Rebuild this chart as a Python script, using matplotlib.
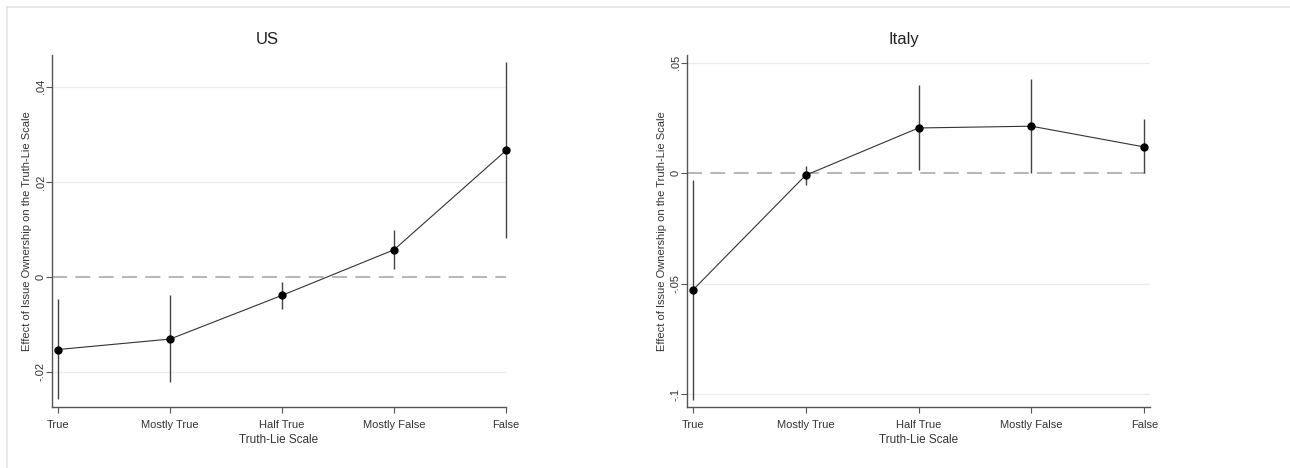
import matplotlib
matplotlib.use("Agg")
import matplotlib.pyplot as plt
from matplotlib.lines import Line2D

plt.rcParams['font.family'] = ['Liberation Sans', 'DejaVu Sans']

categories = ['True', 'Mostly True', 'Half True', 'Mostly False', 'False']

us_est = [-0.0153, -0.0131, -0.0039, 0.0057, 0.0266]
us_lo = [-0.0257, -0.0222, -0.0068, 0.0016, 0.0081]
us_hi = [-0.0047, -0.0038, -0.0010, 0.0099, 0.0453]
us_ticks = [-0.02, 0, 0.02, 0.04]
us_ticklabels = ['-.02', '0', '.02', '.04']

it_est = [-0.0529, -0.0009, 0.0205, 0.0213, 0.0119]
it_lo = [-0.1024, -0.0051, 0.0014, 0.0000, 0.0000]
it_hi = [-0.0029, 0.0032, 0.0398, 0.0428, 0.0247]
it_ticks = [-0.1, -0.05, 0, 0.05]
it_ticklabels = ['-.1', '-.05', '0', '.05']

W, H = 1290, 468
fig = plt.figure(figsize=(W / 100, H / 100), dpi=100)

# faint frame of the original screenshot
fig.add_artist(Line2D([7 / W, 1], [1 - 7 / H, 1 - 7 / H], color='#e4e4e4', lw=1.2))
fig.add_artist(Line2D([7 / W, 7 / W], [0, 1 - 7 / H], color='#e4e4e4', lw=1.2))


def draw_panel(rect, title, est, lo, hi, ticks, ticklabels, xlim, ylim, title_x):
    ax = fig.add_axes(rect)
    x = list(range(len(categories)))
    ax.axhline(0, color='#aaaaaa', lw=1.2, dashes=(9, 5), zorder=1)
    for t in ticks:
        if t != 0:
            ax.axhline(t, color='#ececec', lw=0.9, zorder=0)
    ax.vlines(x, lo, hi, color='#444444', lw=1.0, zorder=2, clip_on=False)
    ax.plot(x, est, color='#333333', lw=0.8, zorder=3, clip_on=False)
    ax.plot(x, est, 'o', color='black', ms=5, zorder=4, clip_on=False)

    ax.set_xlim(*xlim)
    ax.set_ylim(*ylim)
    ax.set_xticks(x)
    ax.set_xticklabels(categories, fontsize=8, color='#333333')
    ax.set_yticks(ticks)
    ax.set_yticklabels(ticklabels, fontsize=8, color='#333333', rotation=90, va='center')
    ax.tick_params(direction='out', length=4, width=0.8, color='#555555')
    ax.tick_params(axis='x', pad=5)
    ax.tick_params(axis='y', pad=0.5)
    for side in ['top', 'right']:
        ax.spines[side].set_visible(False)
    for side in ['left', 'bottom']:
        ax.spines[side].set_color('#555555')
        ax.spines[side].set_linewidth(1.0)
    ax.set_xlabel('Truth-Lie Scale', fontsize=8.5, color='#333333', labelpad=3)
    ax.set_ylabel('Effect of Issue Ownership on the Truth-Lie Scale', fontsize=8,
                  color='#333333', labelpad=2.5)
    ax.text(title_x, 1.0 + 15 / (rect[3] * H), title, transform=ax.transAxes,
            ha='center', va='center', fontsize=12, color='#222222')
    return ax


draw_panel([52 / W, 1 - 407 / H, 454 / W, 352 / H], 'US', us_est, us_lo, us_hi,
           us_ticks, us_ticklabels, (-0.054, 4.0), (-0.0274, 0.0467), 0.474)
draw_panel([687 / W, 1 - 407 / H, 463 / W, 352 / H], 'Italy', it_est, it_lo, it_hi,
           it_ticks, it_ticklabels, (-0.05, 4.05), (-0.1057, 0.0535), 0.469)

fig.savefig('out.png', dpi=100, facecolor='white')
